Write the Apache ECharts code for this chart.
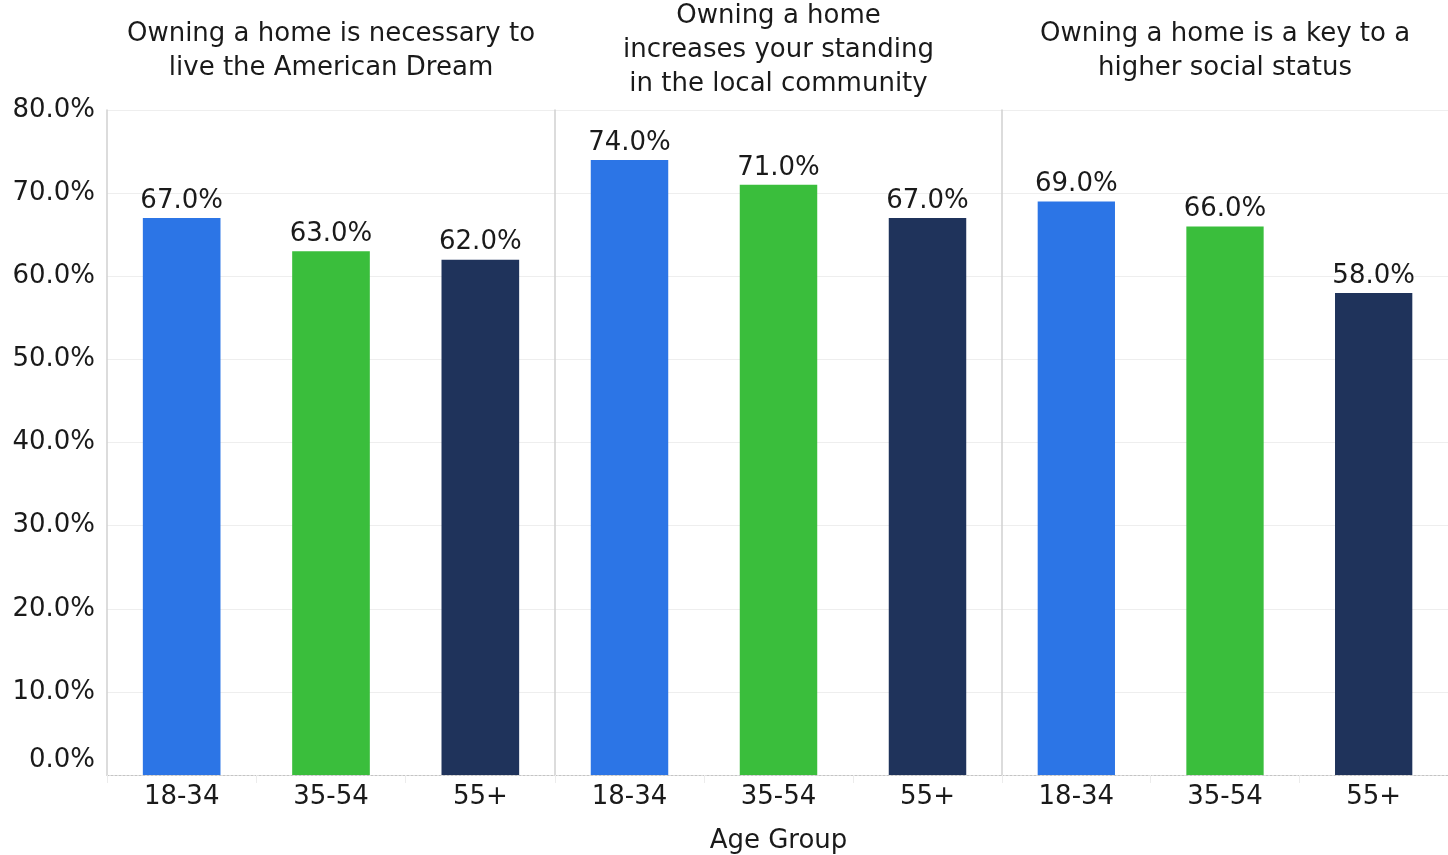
<!DOCTYPE html>
<html>
<head>
<meta charset="utf-8">
<script src="https://cdn.jsdelivr.net/npm/echarts@6/dist/echarts.min.js"></script>
<style>
html, body { margin: 0; padding: 0; background: #fff; }
#chart { width: 1448px; height: 855px; }
</style>
</head>
<body>
<div id="chart"></div>
<script>
// data
const panelTitles = [
    'Owning a home is necessary to\nlive the American Dream',
    'Owning a home\nincreases your standing\nin the local community',
    'Owning a home is a key to a\nhigher social status'
];
const ageGroups = ['18-34', '35-54', '55+'];
const dreamValues = [67, 63, 62];
const standingValues = [74, 71, 67];
const statusValues = [69, 66, 58];
const yTicks = [0, 10, 20, 30, 40, 50, 60, 70, 80];
const barColors = ['#2c75e6', '#3abe3c', '#1f335b'];
const xAxisTitle = 'Age Group';

const panels = [dreamValues, standingValues, statusValues];
const font = 'DejaVu Sans';
const textColor = '#1a1a1a';

const gridLefts = [107, 555, 1002];
const gridWidths = [448, 447, 446];
const plotTop = 110;
const plotBottom = 80;

let myChart = echarts.init(document.getElementById('chart'));

let grids = [];
let xAxes = [];
let yAxes = [];
let series = [];
let titles = [];

panels.forEach((vals, i) => {
    grids.push({
        left: gridLefts[i],
        width: gridWidths[i],
        top: plotTop,
        bottom: plotBottom,
        containLabel: false,
        outerBoundsMode: 'none'
    });
    xAxes.push({
        type: 'category',
        gridIndex: i,
        data: ageGroups,
        axisLine: { show: true, lineStyle: { color: '#c4c4c4', type: [2, 2], width: 1 } },
        axisTick: { show: true, length: 8, lineStyle: { color: '#ececec' } },
        axisLabel: { fontSize: 26, fontFamily: font, color: textColor, margin: 9 }
    });
    yAxes.push({
        type: 'value',
        gridIndex: i,
        min: yTicks[0],
        max: yTicks[yTicks.length - 1],
        interval: 10,
        axisLine: { show: true, lineStyle: { color: '#d0d0d0', width: 1.5 } },
        axisTick: { show: false },
        splitLine: { show: true, lineStyle: { color: '#eeeeee' } },
        axisLabel: {
            show: i === 0,
            fontSize: 26,
            fontFamily: font,
            color: textColor,
            margin: 12,
            formatter: function (v) {
                return v === 0 ? '{z|0.0%}' : v.toFixed(1) + '%';
            },
            rich: {
                z: { fontSize: 26, fontFamily: font, color: textColor, padding: [0, 0, 30, 0] }
            }
        }
    });
    series.push({
        type: 'bar',
        xAxisIndex: i,
        yAxisIndex: i,
        barWidth: '52%',
        data: vals.map((v, j) => ({ value: v, itemStyle: { color: barColors[j] } })),
        label: {
            show: true,
            position: 'top',
            distance: 4,
            fontSize: 26,
            fontFamily: font,
            color: textColor,
            formatter: p => p.value.toFixed(1) + '%'
        }
    });
    titles.push({
        text: panelTitles[i],
        left: gridLefts[i] + gridWidths[i] / 2,
        top: i === 1 ? -1 : 17,
        textAlign: 'center',
        padding: 0,
        textStyle: {
            fontSize: 26,
            fontWeight: 'normal',
            fontFamily: font,
            color: textColor,
            lineHeight: 34
        }
    });
});

titles.push({
    text: xAxisTitle,
    left: gridLefts[1] + gridWidths[1] / 2,
    top: 828,
    textAlign: 'center',
    padding: 0,
    textStyle: { fontSize: 26, fontWeight: 'normal', fontFamily: font, color: textColor }
});

let option = {
    backgroundColor: '#fff',
    animation: false,
    title: titles,
    grid: grids,
    xAxis: xAxes,
    yAxis: yAxes,
    series: series
};
myChart.setOption(option);
</script>
</body>
</html>
